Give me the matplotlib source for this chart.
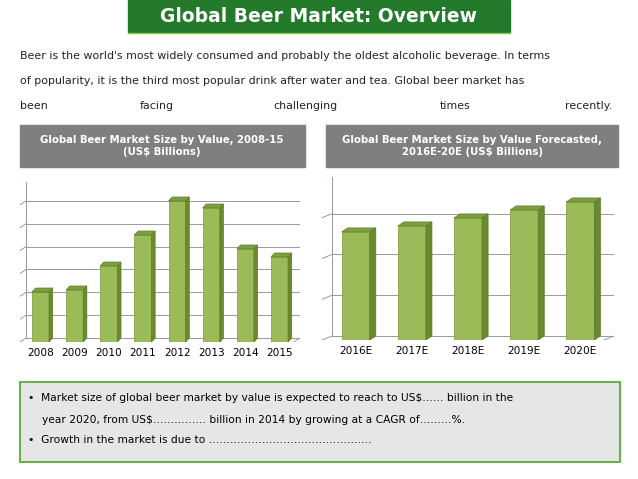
import matplotlib
matplotlib.use("Agg")
import matplotlib.pyplot as plt
from matplotlib.patches import Rectangle, Polygon

years_hist = ["2008", "2009", "2010", "2011", "2012", "2013", "2014", "2015"]
values_hist = [50, 52, 76, 107, 141, 134, 93, 85]
years_fc = ["2016E", "2017E", "2018E", "2019E", "2020E"]
values_fc = [108, 114, 122, 130, 138]

F = "DejaVu Sans"
W, H = 638, 479
fig = plt.figure(figsize=(6.38, 4.79), dpi=100)
bg = fig.add_axes([0, 0, 1, 1])
bg.set_xlim(0, W); bg.set_ylim(H, 0); bg.axis("off")

# title bar
bg.add_patch(Rectangle((128, 0), 382, 32, color="#237a2a"))
bg.text(319, 16, "Global Beer Market: Overview", color="white", fontsize=13.5,
        fontweight="bold", ha="center", va="center", family=F)
bg.plot([128, 510], [33, 33], color="#8bc34a", lw=1)

txt = ["Beer is the world's most widely consumed and probably the oldest alcoholic beverage. In terms",
       "of popularity, it is the third most popular drink after water and tea. Global beer market has"]
for i, t in enumerate(txt):
    bg.text(20, 56 + i * 25, t, fontsize=7.9, va="center", ha="left", color="#222", family=F)
for x, w in [(20, "been"), (140, "facing"), (273, "challenging"), (440, "times"), (565, "recently.")]:
    bg.text(x, 106, w, fontsize=7.9, va="center", ha="left", color="#222", family=F)

# grey headers
bg.add_patch(Rectangle((20, 125), 285, 42, color="#7f7f7f"))
bg.text(162, 146, "Global Beer Market Size by Value, 2008-15\n(US$ Billions)", color="white",
        fontsize=7.3, fontweight="bold", ha="center", va="center", family=F)
bg.add_patch(Rectangle((326, 125), 292, 42, color="#7f7f7f"))
bg.text(472, 146, "Global Beer Market Size by Value Forecasted,\n2016E-20E (US$ Billions)", color="white",
        fontsize=7.3, fontweight="bold", ha="center", va="center", family=F)

# bottom box
bg.add_patch(Rectangle((20, 382), 600, 80, facecolor="#e6e6e6", edgecolor="#6ab04c", lw=1.5))
bg.text(28, 398, "•  Market size of global beer market by value is expected to reach to US$…… billion in the",
        fontsize=7.7, va="center", family=F)
bg.text(42, 420, "year 2020, from US$…………… billion in 2014 by growing at a CAGR of………%.",
        fontsize=7.7, va="center", family=F)
bg.text(28, 440, "•  Growth in the market is due to ……………………………………….",
        fontsize=7.7, va="center", family=F)


def chart(rect, labels, vals, ymax, nlines):
    ax = fig.add_axes(rect)
    n = len(vals)
    ax.set_xlim(-0.6, n - 0.4)
    ax.set_ylim(0, ymax)
    step = ymax / nlines
    dx, dy = 0.18, ymax * 0.025
    for k in range(nlines + 1):
        y = k * step
        ax.plot([-0.6, -0.6 + dx], [y, y + dy], color="#999", lw=0.7)
        ax.plot([-0.6 + dx, n - 0.4], [y + dy, y + dy], color="#999", lw=0.7)
    ax.plot([-0.6 + dx, -0.6 + dx], [dy, ymax], color="#999", lw=0.7)
    ax.plot([n - 0.4, n - 0.4], [dy, ymax], color="#999", lw=0.7)
    ax.plot([-0.6, n - 0.4 - dx], [0, 0], color="#999", lw=0.7)
    ax.plot([n - 0.4 - dx, n - 0.4], [0, dy], color="#999", lw=0.7)
    bw = 0.5
    for i, v in enumerate(vals):
        x0 = i - bw / 2
        ax.add_patch(Rectangle((x0, 0), bw, v, facecolor="#9bbb59", edgecolor="#7a9a3a", lw=0.5, zorder=3))
        ax.add_patch(Polygon([(x0 + bw, 0), (x0 + bw + dx * 0.6, dy), (x0 + bw + dx * 0.6, v + dy), (x0 + bw, v)],
                             facecolor="#6b8a2f", edgecolor="#5a7a28", lw=0.5, zorder=3))
        ax.add_patch(Polygon([(x0, v), (x0 + bw, v), (x0 + bw + dx * 0.6, v + dy), (x0 + dx * 0.6, v + dy)],
                             facecolor="#7fa03f", edgecolor="#5a7a28", lw=0.5, zorder=3))
    ax.set_xticks(range(n))
    ax.set_xticklabels(labels, fontsize=7.6, family=F)
    ax.tick_params(length=0, pad=4)
    ax.set_yticks([])
    for s in ax.spines.values():
        s.set_visible(False)
    ax.patch.set_alpha(0)
    return ax

chart([20 / W, 1 - 342 / H, 280 / W, 160 / H], years_hist, values_hist, 160, 7)
chart([322 / W, 1 - 340 / H, 292 / W, 163 / H], years_fc, values_fc, 163, 4)

fig.savefig("out.png", dpi=100)
